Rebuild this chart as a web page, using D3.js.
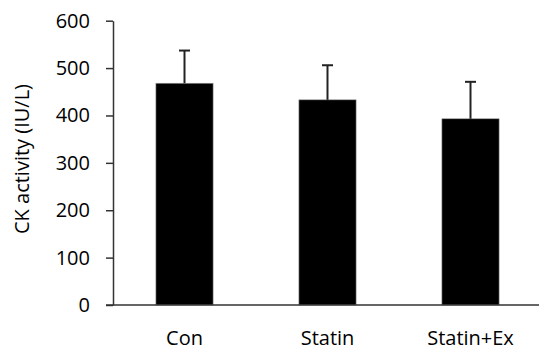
<!DOCTYPE html>
<html>
<head>
  <script src="https://d3js.org/d3.v7.min.js"></script>
  <style>
    body { margin: 0; background: #fff; }
    text { font-family: "Open Sans", sans-serif; fill: #000; }
  </style>
</head>
<body>
  <svg width="539" height="350"></svg>
  <script>
    // chart values
    const groups = ["Con", "Statin", "Statin+Ex"];
    const means = [468, 433, 393];
    const errors = [69, 73, 78];
    const yTicks = [0, 100, 200, 300, 400, 500, 600];

    const svg = d3.select("svg");
    const plotLeft = 113, plotRight = 542, plotTop = 20.7, plotBottom = 305;
    const fontSize = "20px";

    const x = d3.scaleBand().domain(groups).range([plotLeft, plotRight]);
    const y = d3.scaleLinear().domain([0, 600]).range([plotBottom, plotTop]);
    const barW = x.bandwidth() * 0.4;

    // bars
    svg.selectAll(".bar")
      .data(groups)
      .enter().append("rect")
      .attr("x", d => x(d) + (x.bandwidth() - barW) / 2)
      .attr("y", (d, i) => y(means[i]))
      .attr("width", barW)
      .attr("height", (d, i) => y(0) - y(means[i]))
      .attr("fill", "#000")
      .attr("stroke", "#999")
      .attr("stroke-width", 0.6);

    // error bars (upper only)
    const err = svg.append("g").attr("stroke", "#222").attr("stroke-width", 2);
    groups.forEach((g, i) => {
      const cx = x(g) + x.bandwidth() / 2;
      err.append("line")
        .attr("x1", cx).attr("x2", cx)
        .attr("y1", y(means[i])).attr("y2", y(means[i] + errors[i]));
      err.append("line")
        .attr("x1", cx - 5.5).attr("x2", cx + 5.5)
        .attr("y1", y(means[i] + errors[i])).attr("y2", y(means[i] + errors[i]));
    });

    // y axis
    const yAxis = svg.append("g")
      .attr("transform", `translate(${plotLeft},0)`)
      .call(d3.axisLeft(y).tickValues(yTicks).tickSize(7).tickPadding(16).tickSizeOuter(0));
    yAxis.select(".domain").attr("stroke", "#333").attr("stroke-width", 1.5);
    yAxis.selectAll(".tick line").attr("stroke", "#333").attr("stroke-width", 1.5);
    yAxis.selectAll(".tick text").style("font-size", fontSize).attr("fill", "#000");

    // x axis
    const xAxis = svg.append("g")
      .attr("transform", `translate(0,${plotBottom})`)
      .call(d3.axisBottom(x).tickSize(0).tickPadding(26).tickSizeOuter(0));
    xAxis.select(".domain").attr("stroke", "#333").attr("stroke-width", 1.5)
      .attr("d", `M${plotLeft - 7},0H${plotRight}`);
    xAxis.selectAll(".tick text").style("font-size", fontSize).attr("fill", "#000");

    // y title
    svg.append("text")
      .attr("transform", "translate(29,159) rotate(-90)")
      .attr("text-anchor", "middle")
      .style("font-size", fontSize)
      .text("CK activity (IU/L)");
  </script>
</body>
</html>
